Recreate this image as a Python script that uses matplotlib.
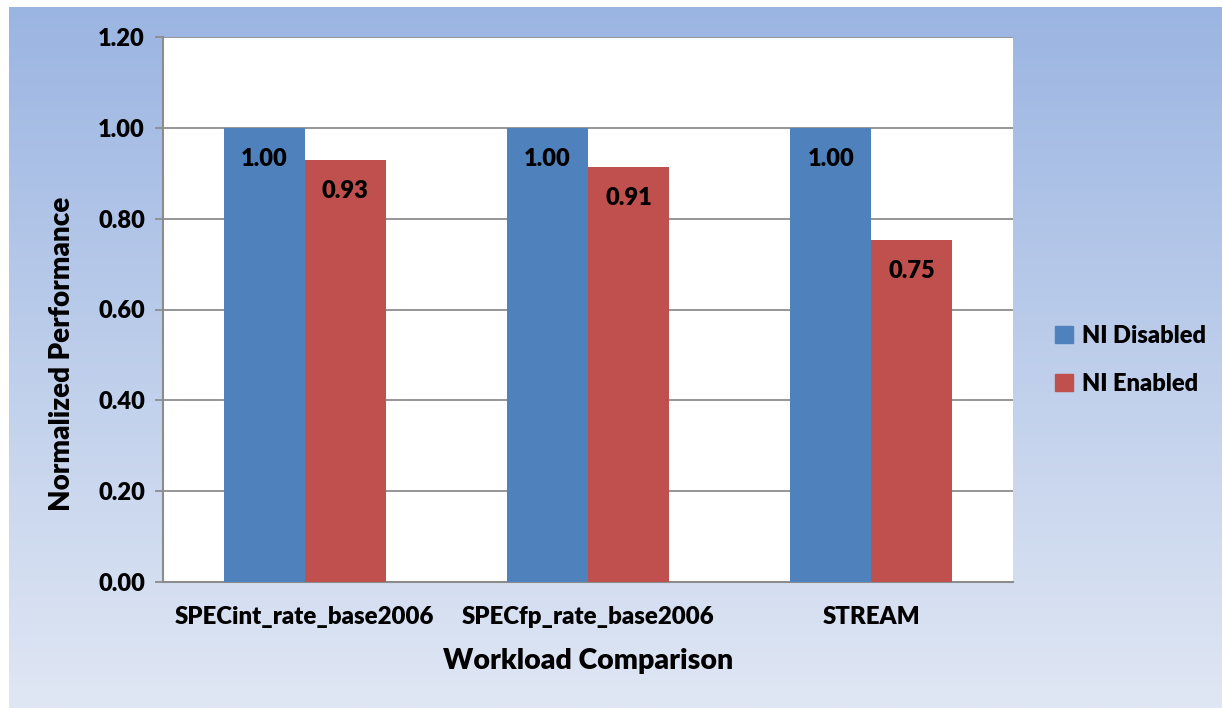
import matplotlib
matplotlib.use("Agg")
import matplotlib.pyplot as plt
import numpy as np
from matplotlib.patches import Patch

WEIGHT = 'heavy'
plt.rcParams['font.family'] = ['Lato', 'DejaVu Sans']
plt.rcParams['font.weight'] = WEIGHT

categories = ["SPECint_rate_base2006", "SPECfp_rate_base2006", "STREAM"]
series_names = ["NI Disabled", "NI Enabled"]
ni_disabled = [1.00, 1.00, 1.00]
ni_enabled = [0.929, 0.914, 0.753]
yticks = [0.0, 0.2, 0.4, 0.6, 0.8, 1.0, 1.2]

c_blue = "#4F81BD"
c_red = "#C0504D"

W, H = 1222, 708
fig = plt.figure(figsize=(W / 100, H / 100), dpi=100)

# gradient background panel
bg = fig.add_axes([9 / W, 0, 1 - 9 / W, 701 / H])
grad = np.linspace(0, 1, 256)[:, None]
top = np.array([0x9B, 0xB5, 0xE2]) / 255
bot = np.array([0xE0, 0xE7, 0xF4]) / 255
img = top[None, None, :] * (1 - grad[:, :, None]) + bot[None, None, :] * grad[:, :, None]
bg.imshow(img, aspect='auto', extent=[0, 1, 0, 1])
bg.set_axis_off()

ax = fig.add_axes([163 / W, (H - 582) / H, (1013 - 163) / W, (582 - 37) / H])
ax.set_facecolor("white")
x = np.arange(len(categories))
w = 0.286
b1 = ax.bar(x - w / 2, ni_disabled, w, color=c_blue, label=series_names[0], zorder=3)
b2 = ax.bar(x + w / 2, ni_enabled, w, color=c_red, label=series_names[1], zorder=3)
for bars, vals in ((b1, ni_disabled), (b2, ni_enabled)):
    for r, v in zip(bars, vals):
        ax.annotate(f"{v:.2f}", (r.get_x() + r.get_width() / 2, v),
                    xytext=(0, -22.5), textcoords='offset points',
                    ha='center', va='center', fontsize=17, fontweight=WEIGHT, color='black', zorder=4)

ax.set_xlim(-0.5, 2.5)
ax.set_ylim(0, 1.2)
ax.set_yticks(yticks)
ax.set_yticklabels([f"{t:.2f}" for t in yticks], fontsize=17, fontweight=WEIGHT)
ax.set_xticks(x)
ax.set_xticklabels(categories, fontsize=17.3, fontweight=WEIGHT)
ax.yaxis.grid(True, color="#8C8C8C", linewidth=1.3, zorder=0)
ax.set_axisbelow(True)
for s in ['top', 'right']:
    ax.spines[s].set_visible(False)
for s in ['left', 'bottom']:
    ax.spines[s].set_color("#8C8C8C")
    ax.spines[s].set_linewidth(1.5)
ax.tick_params(axis='y', length=6, width=1.3, color="#8C8C8C", pad=7)
ax.tick_params(axis='x', length=0, pad=17)

fig.text(62 / W, 1 - 354 / H, "Normalized Performance", rotation=90, ha='center', va='center',
         fontsize=20, fontweight=WEIGHT)
fig.text(588 / W, 1 - 661 / H, "Workload Comparison", ha='center', va='center',
         fontsize=20.5, fontweight=WEIGHT)

handles = [Patch(color=c_blue, label=series_names[0]), Patch(color=c_red, label=series_names[1])]
leg = fig.legend(handles=handles, loc='center left', bbox_to_anchor=(1055 / W, 1 - 360 / H),
                 frameon=False, handlelength=0.75, handleheight=0.75, borderpad=0,
                 borderaxespad=0, handletextpad=0.4, labelspacing=1.1,
                 prop={'weight': WEIGHT, 'size': 17})

fig.savefig("out.png", dpi=100)
